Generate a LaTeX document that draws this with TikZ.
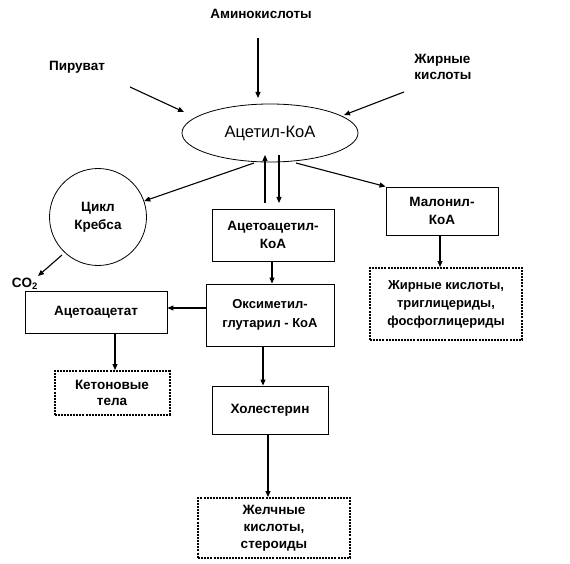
\documentclass[tikz,border=0pt]{standalone}
\usepackage{fontspec}
\setmainfont{Liberation Sans}
\usetikzlibrary{arrows.meta,shapes.geometric}
\begin{document}
\begin{tikzpicture}[x=1pt,y=-1pt,
  lbl/.style={font=\bfseries\fontsize{13.5}{17}\selectfont,inner sep=0pt,align=center},
  sbox/.style={draw,line width=0.9pt,font=\bfseries\fontsize{13.5}{18}\selectfont,align=center,inner sep=0pt},
  dbox/.style={draw,line width=2pt,dash pattern=on 2pt off 1.1pt,font=\bfseries\fontsize{13.5}{18}\selectfont,align=center,inner sep=0pt},
  arr/.style={-{Triangle[length=6pt,width=5pt]},line width=1.1pt}]
\useasboundingbox (0,0) rectangle (570,564);
\node[lbl] (amino) at (261,14) {Аминокислоты};
\node[lbl] (pyr) at (77,67) {Пируват};
\node[lbl,align=left] (fa) at (443,67) {Жирные\\[-1pt]кислоты};
\node[draw,ellipse,line width=0.8pt,minimum width=176pt,minimum height=58pt,inner sep=0pt,font=\fontsize{16.5}{18}\selectfont] (acoa) at (270,133) {Ацетил-КоА};
\node[draw,circle,line width=0.8pt,minimum size=97pt,inner sep=0pt,font=\bfseries\fontsize{13.5}{18}\selectfont,align=center] (krebs) at (98,217) {Цикл\\Кребса};
\node[lbl] (co2) at (25,284) {CO$_\mathbf{2}$};
\node[sbox,minimum width=122pt,minimum height=52pt] (aacoa) at (273,235) {Ацетоацетил-\\КоА};
\node[sbox,minimum width=128pt,minimum height=62pt,font=\bfseries\fontsize{13}{19}\selectfont] (hmg) at (270,315) {Оксиметил-\\глутарил - КоА};
\node[sbox,minimum width=142pt,minimum height=42pt] (aac) at (96,312) {Ацетоацетат};
\node[dbox,minimum width=115pt,minimum height=44pt,font=\bfseries\fontsize{13.5}{16}\selectfont] (ket) at (112,393) {Кетоновые\\тела};
\node[sbox,minimum width=112pt,minimum height=48pt] (mal) at (442,211) {Малонил-\\КоА};
\node[dbox,minimum width=152pt,minimum height=72pt,font=\bfseries\fontsize{13}{18}\selectfont] (fat) at (446,304) {Жирные кислоты,\\триглицериды,\\фосфоглицериды};
\node[sbox,minimum width=116pt,minimum height=48pt] (chol) at (270,410) {Холестерин};
\node[dbox,minimum width=152pt,minimum height=60pt,font=\bfseries\fontsize{13.5}{17}\selectfont] (bile) at (274,528) {Желчные\\кислоты,\\стероиды};
\coordinate (a1) at (258,38);
\coordinate (a2) at (258,98);
\coordinate (p1) at (130,87);
\coordinate (p2) at (184,112);
\coordinate (f1) at (404,92);
\coordinate (f2) at (344,115);
\coordinate (u1) at (265,203);
\coordinate (u2) at (265,155);
\coordinate (d1) at (279,155);
\coordinate (d2) at (279,203);
\draw[arr] (a1) -- (a2);
\draw[arr] (p1) -- (p2);
\draw[arr] (f1) -- (f2);
\draw[arr] (254,163) -- (krebs);
\draw[arr] (296,163) -- (mal.north west);
\draw[arr] (u1) -- (u2);
\draw[arr] (d1) -- (d2);
\draw[arr] (62,255) -- (38,276);
\draw[arr] (aacoa.south -| 272,0) -- (hmg.north -| 272,0);
\draw[arr] (hmg.west |- 0,308) -- (aac.east |- 0,308);
\draw[arr] (aac.south -| 115,0) -- (ket.north -| 115,0);
\draw[arr] (mal.south -| 440,0) -- (fat.north -| 440,0);
\draw[arr] (hmg.south -| 263,0) -- (chol.north -| 263,0);
\draw[arr] (chol.south -| 268,0) -- (bile.north -| 268,0);
\end{tikzpicture}
\end{document}
